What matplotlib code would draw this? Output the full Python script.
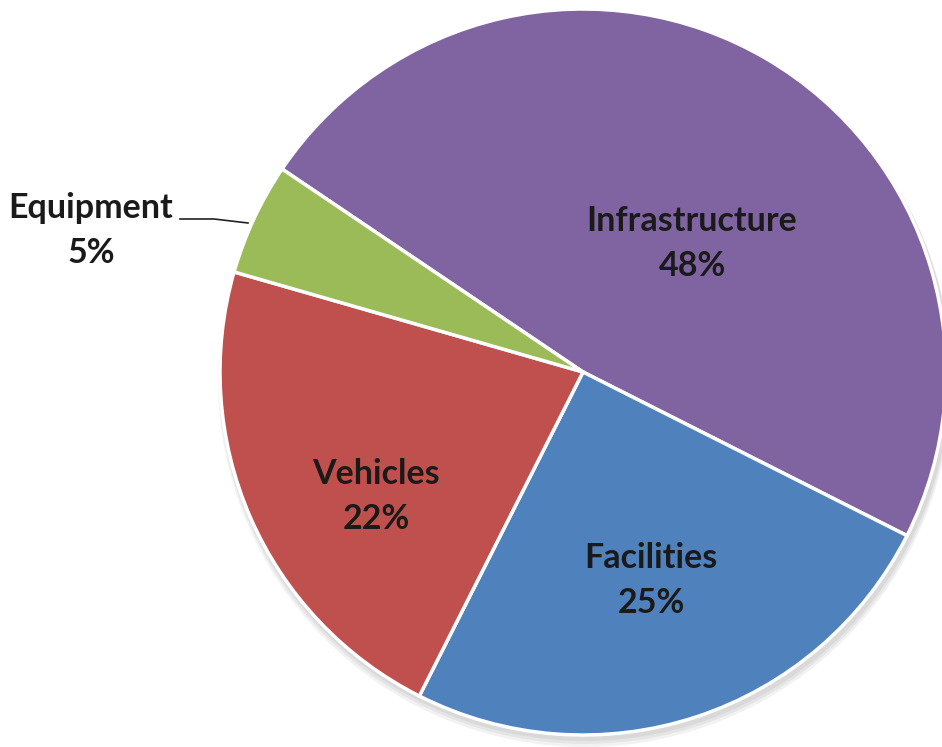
import matplotlib.pyplot as plt
from matplotlib.patches import Circle

categories = ['Infrastructure', 'Facilities', 'Vehicles', 'Equipment']
shares = [48, 25, 22, 5]
colors = ['#8064A2', '#4F81BD', '#C0504D', '#9BBB59']

plt.rcParams['font.family'] = ['Lato', 'DejaVu Sans']

fig = plt.figure(figsize=(9.42, 7.47), dpi=100)
ax = fig.add_axes([0, 0, 1, 1])

cx, cy, r = 583, 375, 363

# soft drop shadow under the pie
for i in range(3):
    ax.add_patch(Circle((cx + 2, cy - 4 - 2 * i), r + 2 + i, color='black',
                        alpha=0.05, lw=0, zorder=0))

wedges, _ = ax.pie(shares, colors=colors, startangle=146, counterclock=False,
                   center=(cx, cy), radius=r, frame=True,
                   wedgeprops=dict(edgecolor='white', linewidth=2.5))
ax.set_xlim(0, 942)
ax.set_ylim(0, 747)
ax.axis('off')

# label positions in pixel offsets from the pie centre
label_pos = {
    'Infrastructure': (109, 151),
    'Facilities': (68, -186),
    'Vehicles': (-207, -102),
    'Equipment': (-492, 164),
}
for name, val in zip(categories, shares):
    dx, dy = label_pos[name]
    ax.text(cx + dx, cy + dy, name, ha='center', va='center',
            fontsize=24.5, fontweight='bold', color='#1a1a1a')
    ax.text(cx + dx, cy + dy - 45, f'{val}%', ha='center', va='center',
            fontsize=24.5, fontweight='bold', color='#1a1a1a')

# leader line for the small slice
ax.plot([180, 214, 248], [747 - 219, 747 - 219, 747 - 223], color='#222222', lw=1.2)

plt.savefig('out.png', dpi=100)
plt.close()
